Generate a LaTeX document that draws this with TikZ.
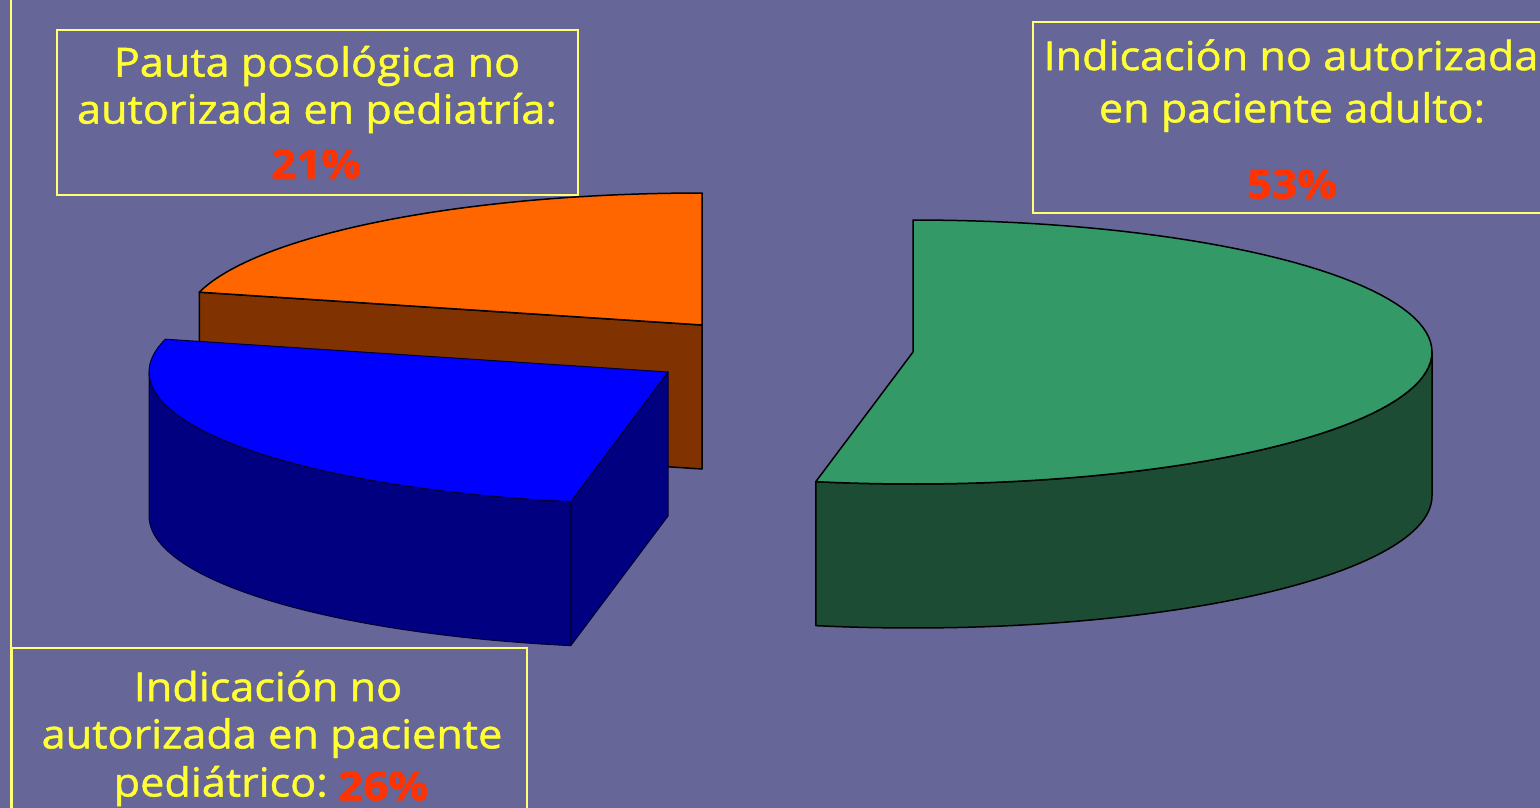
\documentclass[tikz,border=0pt]{standalone}
\usepackage{fontspec}
\setmainfont{Open Sans}
\newfontfamily\slidefont[FakeStretch=1.08, FakeBold=1.2]{Open Sans}
\newfontfamily\pctfont[FakeStretch=1.1, FakeBold=1.5]{Open Sans Bold}
\definecolor{bg}{RGB}{102,102,153}
\definecolor{orTop}{RGB}{255,102,0}
\definecolor{orSide}{RGB}{128,51,0}
\definecolor{blTop}{RGB}{0,0,255}
\definecolor{blSide}{RGB}{0,0,128}
\definecolor{grTop}{RGB}{51,153,102}
\definecolor{grSide}{RGB}{28,76,52}
\definecolor{txt}{RGB}{255,255,51}
\definecolor{boxc}{RGB}{255,255,120}
\definecolor{pct}{RGB}{255,51,0}
\tikzset{
  boxline/.style={draw=boxc, line width=2.2pt},
  lbl/.style={text=txt, font=\slidefont\fontsize{40}{46}\selectfont, inner sep=0pt, anchor=center},
  pcttext/.style={text=pct, font=\pctfont\fontsize{40}{46}\selectfont, inner sep=0pt},
  edge/.style={draw=black, line width=1.5pt, line join=round},
  bedge/.style={draw=black!80!blue, line width=1pt, line join=round}
}
\begin{document}
\begin{tikzpicture}[x=1pt,y=-1pt]
\useasboundingbox (0,0) rectangle (1540,808);
\fill[bg] (0,0) rectangle (1540,808);
\clip (0,0) rectangle (1540,808);

% ---------- orange slice (21%) ----------
\filldraw[fill=orSide, edge] (702,325) -- ({702+519*cos(165.6)},{325-132*sin(165.6)}) -- ++(0,144) -- (702,469) -- cycle;
\filldraw[fill=orTop, edge] (702,325) -- plot[domain=90:165.6,samples=50] ({702+519*cos(\x)},{325-132*sin(\x)}) -- cycle;

% ---------- blue slice (26%) ----------
\filldraw[fill=blSide, bedge] plot[domain=180:259.2,samples=50] ({668+519*cos(\x)},{372-132*sin(\x)}) -- plot[domain=259.2:180,samples=50] ({668+519*cos(\x)},{516-132*sin(\x)}) -- cycle;
\filldraw[fill=blSide, bedge] (668,372) -- ({668+519*cos(259.2)},{372-132*sin(259.2)}) -- ++(0,144) -- (668,516) -- cycle;
\filldraw[fill=blTop, bedge] (668,372) -- plot[domain=165.6:259.2,samples=50] ({668+519*cos(\x)},{372-132*sin(\x)}) -- cycle;

% ---------- green slice (53%) ----------
\filldraw[fill=grSide, edge] plot[domain=0:-100.8,samples=60] ({913+519*cos(\x)},{352-132*sin(\x)}) -- plot[domain=-100.8:0,samples=60] ({913+519*cos(\x)},{496-132*sin(\x)}) -- cycle;
\filldraw[fill=grTop, edge] (913,352) -- plot[domain=90:-100.8,samples=90] ({913+519*cos(\x)},{352-132*sin(\x)}) -- cycle;

% ---------- frame line and boxes ----------
\draw[boxline] (11,-5) -- (11,815);
\draw[boxline] (57,30) rectangle (578,195);
\draw[boxline] (1033,22) rectangle (1560,213);
\draw[boxline] (12,648) rectangle (527,820);

% ---------- texts ----------
\node[lbl] (t1a) at (317,66) {Pauta posológica no};
\node[lbl] (t1b) at (317,113) {autorizada en pediatría:};
\node[pcttext] (t1c) at (316,164) {21\%};

\node[lbl] (t2a) at (1291,55) {Indicación no autorizada};
\node[lbl] (t2b) at (1292,112) {en paciente adulto:};
\node[pcttext] (t2c) at (1292,184) {53\%};

\node[lbl] (t3a) at (268,686) {Indicación no};
\node[lbl] (t3b) at (272,738) {autorizada en paciente};
\node[lbl, anchor=east] (t3c) at (328,786) {pediátrico:};
\node[pcttext, anchor=west] (t3d) at (338,786) {26\%};
\end{tikzpicture}
\end{document}
